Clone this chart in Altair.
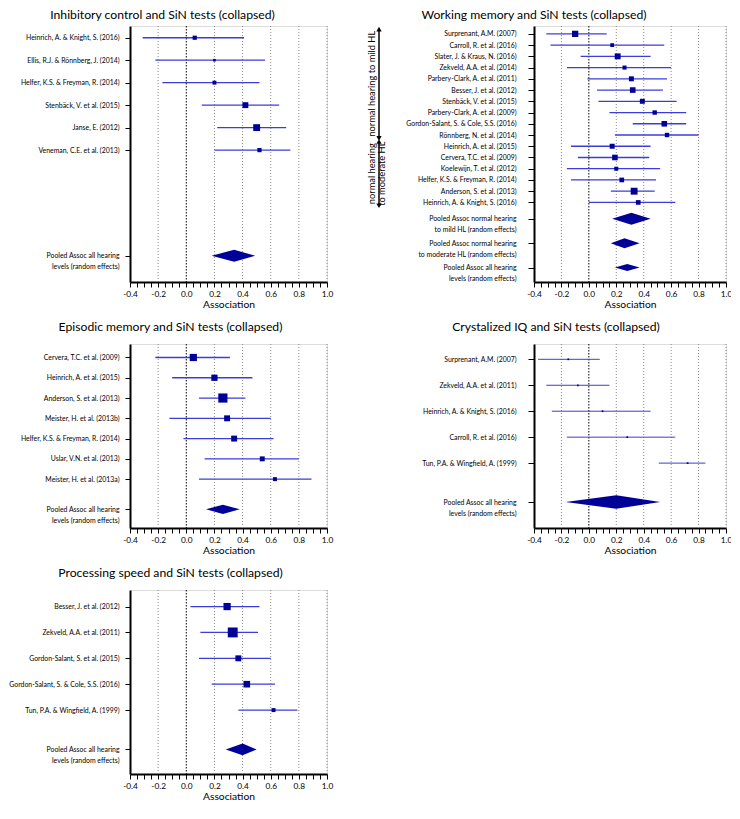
import json
import altair as alt
import pandas as pd

FONT = "Lato"
LINE_BLUE = "#3c3cd8"
BOX_BLUE = "#000099"

# ---------------- data ----------------
ic_title = "Inhibitory control and SiN tests (collapsed)"
ic_studies = ["Heinrich, A. & Knight, S. (2016)", "Ellis, R.J. & Rönnberg, J. (2014)",
              "Helfer, K.S. & Freyman, R. (2014)", "Stenbäck, V. et al. (2015)",
              "Janse, E. (2012)", "Veneman, C.E. et al. (2013)"]
ic_est = [0.06, 0.20, 0.20, 0.42, 0.50, 0.52]
ic_lo = [-0.31, -0.22, -0.17, 0.11, 0.22, 0.20]
ic_hi = [0.41, 0.56, 0.52, 0.66, 0.71, 0.74]
ic_weight = [12.7, 5.0, 11.0, 24.8, 33.7, 12.7]
ic_pool_labels = [["Pooled Assoc all hearing", "levels (random effects)"]]
ic_pool_est = [0.34]
ic_pool_lo = [0.18]
ic_pool_hi = [0.49]

wm_title = "Working memory and SiN tests (collapsed)"
wm_studies = ["Surprenant, A.M. (2007)", "Carroll, R. et al. (2016)", "Slater, J. & Kraus, N. (2016)",
              "Zekveld, A.A. et al. (2014)", "Parbery-Clark, A. et al. (2011)", "Besser, J. et al. (2012)",
              "Stenbäck, V. et al. (2015)", "Parbery-Clark, A. et al. (2009)",
              "Gordon-Salant, S. & Cole, S.S. (2016)", "Rönnberg, N. et al. (2014)",
              "Heinrich, A. et al. (2015)", "Cervera, T.C. et al. (2009)", "Koelewijn, T. et al. (2012)",
              "Helfer, K.S. & Freyman, R. (2014)", "Anderson, S. et al. (2013)",
              "Heinrich, A. & Knight, S. (2016)"]
wm_est = [-0.10, 0.17, 0.21, 0.26, 0.31, 0.32, 0.39, 0.48, 0.55, 0.57,
          0.17, 0.19, 0.20, 0.24, 0.33, 0.36]
wm_lo = [-0.31, -0.28, -0.06, -0.16, -0.01, 0.06, 0.07, 0.15, 0.32, 0.19,
         -0.13, -0.08, -0.16, -0.13, 0.16, 0.00]
wm_hi = [0.13, 0.55, 0.45, 0.60, 0.57, 0.54, 0.64, 0.71, 0.71, 0.80,
         0.45, 0.44, 0.52, 0.49, 0.48, 0.63]
wm_weight = [9.4, 3.4, 8.3, 3.9, 5.9, 7.5, 5.9, 4.6, 7.5, 4.6, 5.9, 7.5, 3.9, 5.2, 11.2, 5.2]
wm_pool_labels = [["Pooled Assoc normal hearing", "to mild HL (random effects)"],
                  ["Pooled Assoc normal hearing", "to moderate HL (random effects)"],
                  ["Pooled Assoc all hearing", "levels (random effects)"]]
wm_pool_est = [0.31, 0.26, 0.28]
wm_pool_lo = [0.17, 0.16, 0.19]
wm_pool_hi = [0.45, 0.37, 0.37]
wm_groups = ["normal hearing to mild HL", "normal hearing\nto moderate HL"]
wm_group_first = [0, 10]
wm_group_last = [9, 15]

em_title = "Episodic memory and SiN tests (collapsed)"
em_studies = ["Cervera, T.C. et al. (2009)", "Heinrich, A. et al. (2015)", "Anderson, S. et al. (2013)",
              "Meister, H. et al. (2013b)", "Helfer, K.S. & Freyman, R. (2014)", "Uslar, V.N. et al. (2013)",
              "Meister, H. et al. (2013a)"]
em_est = [0.05, 0.20, 0.26, 0.29, 0.34, 0.54, 0.63]
em_lo = [-0.22, -0.10, 0.09, -0.12, -0.02, 0.13, 0.09]
em_hi = [0.31, 0.47, 0.42, 0.60, 0.62, 0.80, 0.89]
em_weight = [18.2, 13.7, 29.5, 12.3, 12.3, 8.5, 5.5]
em_pool_labels = [["Pooled Assoc all hearing", "levels (random effects)"]]
em_pool_est = [0.26]
em_pool_lo = [0.14]
em_pool_hi = [0.38]

iq_title = "Crystalized IQ and SiN tests (collapsed)"
iq_studies = ["Surprenant, A.M. (2007)", "Zekveld, A.A. et al. (2011)", "Heinrich, A. & Knight, S. (2016)",
              "Carroll, R. et al. (2016)", "Tun, P.A. & Wingfield, A. (1999)"]
iq_est = [-0.15, -0.08, 0.10, 0.28, 0.72]
iq_lo = [-0.37, -0.31, -0.27, -0.16, 0.51]
iq_hi = [0.08, 0.15, 0.45, 0.63, 0.85]
iq_weight = [20, 20, 20, 20, 20]
iq_pool_labels = [["Pooled Assoc all hearing", "levels (random effects)"]]
iq_pool_est = [0.20]
iq_pool_lo = [-0.17]
iq_pool_hi = [0.52]

ps_title = "Processing speed and SiN tests (collapsed)"
ps_studies = ["Besser, J. et al. (2012)", "Zekveld, A.A. et al. (2011)", "Gordon-Salant, S. et al. (2015)",
              "Gordon-Salant, S. & Cole, S.S. (2016)", "Tun, P.A. & Wingfield, A. (1999)"]
ps_est = [0.29, 0.33, 0.37, 0.43, 0.62]
ps_lo = [0.03, 0.10, 0.09, 0.18, 0.37]
ps_hi = [0.52, 0.51, 0.60, 0.63, 0.79]
ps_weight = [21.3, 40.0, 14.4, 17.9, 6.4]
ps_pool_labels = [["Pooled Assoc all hearing", "levels (random effects)"]]
ps_pool_est = [0.40]
ps_pool_lo = [0.28]
ps_pool_hi = [0.50]

# x axis ticks / grid
X_TICKS = [round(-0.4 + 0.05 * i, 2) for i in range(29)]
GRID_VALUES = [-0.2, 0.2, 0.4, 0.6, 0.8, 1.0]


def make_panel(title, studies, est, lo, hi, weight, pool_labels, pool_est, pool_lo, pool_hi,
               layout, groups=None):
    n = len(studies)
    rows = list(range(n))
    y_domain = layout["domain"]
    height = layout["height"]
    pool_rows = layout["pool_rows"]
    unit = height / (y_domain[1] - y_domain[0])

    sdf = pd.DataFrame(dict(label=studies, row=rows, est=est, lo=lo, hi=hi, weight=weight))
    dia = []
    for j, (e, l, h, r, hp) in enumerate(zip(pool_est, pool_lo, pool_hi, pool_rows, layout["dia_half"])):
        d = hp / unit
        dia += [dict(pid=j, x=l, top=r, bot=r), dict(pid=j, x=e, top=r - d, bot=r + d),
                dict(pid=j, x=h, top=r, bot=r)]
    ddf = pd.DataFrame(dia)

    positions = rows + list(pool_rows)
    labels = list(studies) + [list(p) for p in pool_labels]
    label_expr = (f"{json.dumps(labels, ensure_ascii=False)}"
                  f"[indexof({json.dumps(positions)}, datum.value)]")

    xscale = alt.Scale(domain=[-0.4, 1.0], nice=False, zero=False)
    yscale = alt.Scale(domain=y_domain, reverse=True, nice=False, zero=False)
    xaxis = alt.Axis(values=X_TICKS, grid=False, title="Association",
                     labelExpr="abs(datum.value*5 - round(datum.value*5)) < 0.01 ? "
                               "(datum.value < -0.001 ? '-' + format(abs(datum.value), '.1f') : format(abs(datum.value), '.1f')) : ''",
                     labelFont=FONT, labelFontSize=8.3, labelColor="black", labelPadding=2,
                     labelFlush=False, labelOverlap=False,
                     domainColor="black", domainWidth=2, tickColor="black", tickWidth=1, tickSize=5,
                     titleFont=FONT, titleFontSize=10.3, titleFontWeight="normal", titleColor="black",
                     titlePadding=2)
    yaxis = alt.Axis(values=positions, labelExpr=label_expr, grid=False, title=None,
                     labelFont=FONT, labelFontSize=6.9, labelColor="black", labelPadding=layout["lpad"],
                     labelLineHeight=11, labelLimit=400, labelOverlap=False,
                     domainColor="black", domainWidth=2, tickColor="black", tickWidth=1,
                     tickSize=layout["tick"])

    def X(f):
        return alt.X(f, scale=xscale, axis=xaxis)

    def Y(f):
        return alt.Y(f, scale=yscale, axis=yaxis)

    grid = alt.Chart(pd.DataFrame({"g": GRID_VALUES})).mark_rule(
        color="#8a8a8a", strokeDash=[1, 2], strokeWidth=1).encode(x=X("g:Q"))
    zero = alt.Chart(pd.DataFrame({"g": [0.0]})).mark_rule(
        color="black", strokeDash=[1.5, 1.5], strokeWidth=1).encode(x=X("g:Q"))
    ci = alt.Chart(sdf).mark_rule(color=LINE_BLUE, strokeWidth=layout["lw"]).encode(
        x=X("lo:Q"), x2="hi:Q", y=Y("row:Q"))
    sq = alt.Chart(sdf).mark_square(color=BOX_BLUE, opacity=1, filled=True).encode(
        x=X("est:Q"), y=Y("row:Q"),
        size=alt.Size("weight:Q", scale=alt.Scale(domain=[0, 100], range=[0, layout["k"]]), legend=None))
    dm = alt.Chart(ddf).mark_area(color=BOX_BLUE, opacity=1, orient="vertical").encode(
        x=X("x:Q"), y=Y("top:Q"), y2="bot:Q", detail="pid:N")
    layers = [grid, zero, ci, sq, dm]

    if groups is not None:
        g_text, g_first, g_last = groups
        gdf = pd.DataFrame(dict(text=g_text, top=[f - 0.42 for f in g_first],
                                bot=[l + 0.3 for l in g_last]))
        gdf["mid"] = (gdf["top"] + gdf["bot"]) / 2
        ax = layout["arrow_x"]
        layers.append(alt.Chart(gdf).mark_rule(color="black", strokeWidth=1.5).encode(
            x=alt.value(ax), y=Y("top:Q"), y2="bot:Q"))
        layers.append(alt.Chart(gdf).mark_point(shape="triangle-up", filled=True, color="black",
                                                 opacity=1, size=28).encode(x=alt.value(ax), y=Y("top:Q")))
        layers.append(alt.Chart(gdf).mark_point(shape="triangle-down", filled=True, color="black",
                                                 opacity=1, size=28).encode(x=alt.value(ax), y=Y("bot:Q")))
        layers.append(alt.Chart(gdf).mark_text(angle=270, font=FONT, fontSize=9.3, color="black",
                                                lineBreak="\n", align="center", baseline="middle",
                                                lineHeight=10).encode(
            x=alt.value(layout["text_x"]), y=Y("mid:Q"), text="text:N"))

    return alt.layer(*layers).properties(
        width=layout["width"], height=height,
        title=alt.Title(title, font=FONT, fontSize=12.2, fontWeight="normal", color="black",
                        anchor="middle", frame="group", dx=layout["tdx"], offset=layout["toff"]))


L_IC = dict(domain=[-0.522, 10.87], height=256, width=197, pool_rows=[9.7], dia_half=[6.0], k=140,
            lpad=6, tick=5, lw=1.3, tdx=-66, toff=4)
L_WM = dict(domain=[-0.7, 22.08], height=256, width=192, pool_rows=[16.45, 18.64, 20.8],
            dia_half=[6.0, 5.0, 3.5], k=420, lpad=12, tick=6, lw=1.3, tdx=-96, toff=4,
            arrow_x=-155, text_x=-162)
L_EM = dict(domain=[-0.665, 8.41], height=184, width=197, pool_rows=[7.49], dia_half=[4.7], k=285,
            lpad=6, tick=5, lw=1.3, tdx=-58, toff=10)
L_IQ = dict(domain=[-0.59, 6.5], height=184, width=192, pool_rows=[5.5], dia_half=[6.7], k=15,
            lpad=12, tick=6, lw=1.0, tdx=-74, toff=10)
L_PS = dict(domain=[-0.64, 6.47], height=184, width=197, pool_rows=[5.52], dia_half=[5.8], k=245,
            lpad=6, tick=5, lw=1.3, tdx=-58, toff=10)

p1 = make_panel(ic_title, ic_studies, ic_est, ic_lo, ic_hi, ic_weight, ic_pool_labels,
                ic_pool_est, ic_pool_lo, ic_pool_hi, L_IC)
p2 = make_panel(wm_title, wm_studies, wm_est, wm_lo, wm_hi, wm_weight, wm_pool_labels,
                wm_pool_est, wm_pool_lo, wm_pool_hi, L_WM,
                groups=(wm_groups, wm_group_first, wm_group_last))
p3 = make_panel(em_title, em_studies, em_est, em_lo, em_hi, em_weight, em_pool_labels,
                em_pool_est, em_pool_lo, em_pool_hi, L_EM)
p4 = make_panel(iq_title, iq_studies, iq_est, iq_lo, iq_hi, iq_weight, iq_pool_labels,
                iq_pool_est, iq_pool_lo, iq_pool_hi, L_IQ)
p5 = make_panel(ps_title, ps_studies, ps_est, ps_lo, ps_hi, ps_weight, ps_pool_labels,
                ps_pool_est, ps_pool_lo, ps_pool_hi, L_PS)

left = alt.vconcat(p1, p3, p5, spacing=62, bounds="flush").resolve_scale(size="independent")
right = alt.vconcat(p2, p4, spacing=62, bounds="flush").resolve_scale(size="independent")
chart = alt.hconcat(left, right, spacing=404, bounds="flush").resolve_scale(size="independent").properties(
    padding={"left": 0, "top": 0, "right": -2, "bottom": 0}
).configure_view(strokeWidth=0).configure(background="white")

chart.save("out.html", embed_options={"renderer": "svg", "actions": False})
